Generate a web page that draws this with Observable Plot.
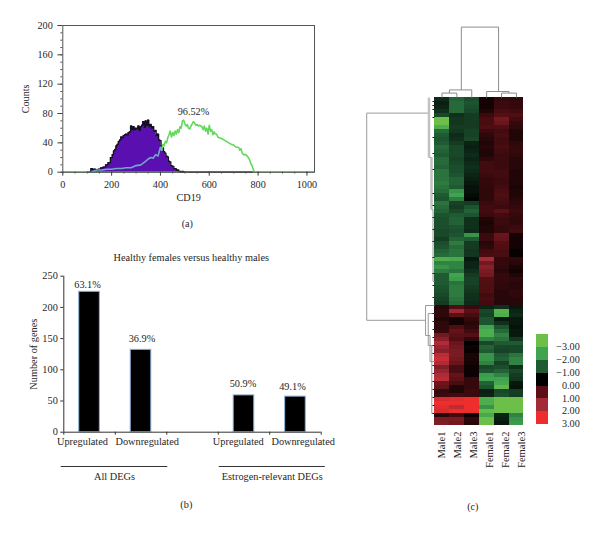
<!DOCTYPE html>
<html><head><meta charset="utf-8">
<script src="https://cdn.jsdelivr.net/npm/d3@7"></script>
<script src="https://cdn.jsdelivr.net/npm/@observablehq/plot@0.6"></script>
<style>
html,body{margin:0;padding:0;background:#fff}
#page{position:relative;width:600px;height:533px;overflow:hidden;background:#fff}
#page svg{position:absolute;overflow:visible;background:transparent}
</style></head><body><div id="page"></div>
<script>
const serif = "'Liberation Serif', serif";
const ink = "#262626";

// ---------- Panel (a): flow histogram ----------
const cd19Bins = [100,110,120,125,130,140,150,160,170,180,190,200,205,210,215,220,225,230,235,240,245,250,255,260,265,270,275,280,285,290,295,300,305,310,315,320,325,330,335,340,345,350,355,360,365,370,375,380,385,390,395,400,405,410,415,420,425,430,435,440,445,450,460,470,480,490,500];
const isotypeCounts = [0,0,5,3,4,3,4,6,7,10,13,20,24,29,31,36,38,42,44,48,47,50,51,52,51,54,55,63,58,62,58,60,59,63,57,62,64,69,61,70,64,71,62,65,60,62,56,57,50,52,44,43,36,33,28,26,22,21,15,14,9,8,5,3,1,1,0];
const cd19PosBins = [120,140,160,180,200,220,240,260,280,300,320,340,350,360,370,380,390,400,405,410,415,420,425,430,435,440,445,450,455,460,465,470,475,480,485,490,495,500,505,510,515,520,525,530,535,540,545,550,555,560,565,570,575,580,585,590,595,600,605,610,615,620,625,630,635,640,650,660,670,680,690,700,710,720,725,730,735,740,750,760,765,770,775,780,785];
const cd19PosCounts = [1,3,3,4,4,5,5,6,6,9,10,15,18,20,19,24,22,34,30,38,36,42,40,47,51,56,48,54,50,56,52,58,54,62,60,70,71,66,63,65,60,59,63,66,69,67,64,65,63,64,63,62,58,63,56,60,52,64,56,58,51,55,52,52,48,47,46,44,42,40,38,37,34,34,30,32,26,24,24,20,17,12,9,4,0];
const countTicks = [0,40,80,120,160,200];
const countMinor = d3.range(0,201,10);
const cd19Ticks = [0,200,400,600,800,1000];
const cd19Minor = d3.range(0,1001,50);

const isotype = cd19Bins.map((x,i)=>({x,y:isotypeCounts[i]}));
const positive = cd19PosBins.map((x,i)=>({x,y:cd19PosCounts[i]}));

const panelA = Plot.plot({
  width:340,height:235,marginLeft:62.3,marginRight:26,marginTop:25,marginBottom:63.3,
  style:{fontFamily:serif,fontSize:"10.2px",color:ink,background:"transparent",left:"0px",top:"0px"},
  x:{domain:[0,1031],axis:null},y:{domain:[0,200],axis:null},
  marks:[
    Plot.areaY(isotype,{x:"x",y:"y",fill:"#5a0fb0",curve:"step"}),
    Plot.lineY(isotype,{x:"x",y:"y",stroke:"#151020",strokeWidth:1.3,curve:"step"}),
    Plot.ruleY([0],{stroke:"#4f9e4f",strokeWidth:1.2}),
    Plot.ruleY([0],{x1:480,x2:780,stroke:"#222",strokeWidth:1.2}),
    Plot.lineY(positive.filter(d=>d.x<=405),{x:"x",y:"y",stroke:"#6fa8c8",strokeWidth:1.6}),
    Plot.lineY(positive.filter(d=>d.x>=405),{x:"x",y:"y",stroke:"#62d85c",strokeWidth:1.6}),
    Plot.frame({stroke:"#555",strokeWidth:1}),
    Plot.ruleY(countMinor,{x1:-8,x2:0,stroke:"#555"}),
    Plot.ruleX(cd19Minor,{y1:-2.5,y2:0,stroke:"#555"}),
    Plot.axisY({ticks:countTicks,tickSize:5,tickPadding:5,label:"Counts",labelAnchor:"center",labelArrow:"none",labelOffset:41,stroke:"#444",fill:ink}),
    Plot.axisX({ticks:cd19Ticks,tickFormat:d=>String(d),tickSize:4,tickPadding:5,label:"CD19",labelAnchor:"center",labelArrow:"none",labelOffset:29,stroke:"#444",fill:ink}),
    Plot.text(["96.52%"],{x:535,y:82,fill:ink}),
    Plot.text(["(a)"],{x:510,y:0,dy:52,fill:ink})
  ]
});

// ---------- Panel (b): DEG bars ----------
const barPositions = [0,1,3,4];
const barCategories = ["Upregulated","Downregulated","Upregulated","Downregulated"];
const geneCounts = [225,132,59,57];
const barPercents = ["63.1%","36.9%","50.9%","49.1%"];
const percentLift = [7,11.6,12,10];
const percentShift = [-2,1,-1,-3];
const labelCentres = [0.363,1.62,3.39,4.65];
const slotTicks = [0,1,2,3,4,5];
const geneTicks = [0,50,100,150,200,250];
const groups = [{name:"All DEGs",from:-0.05,to:2.02,mid:0.985},{name:"Estrogen-relevant DEGs",from:3.02,to:5.08,mid:4.05}];

const panelB = Plot.plot({
  width:345,height:285,marginLeft:63.3,marginRight:24.3,marginTop:35.7,marginBottom:93.3,
  style:{fontFamily:serif,fontSize:"10.3px",color:ink,background:"transparent",left:"0px",top:"240px"},
  x:{domain:[0,5],axis:null},y:{domain:[0,250],axis:null},
  marks:[
    Plot.rect(geneCounts,{x1:(d,i)=>barPositions[i]+0.3,x2:(d,i)=>barPositions[i]+0.7,y1:0,y2:d=>d,fill:"#000",stroke:"#8db2d6",strokeWidth:1}),
    ...geneCounts.map((v,i)=>Plot.text([barPercents[i]],{x:barPositions[i]+0.5,y:v,dy:-percentLift[i],dx:percentShift[i],fill:ink})),
    Plot.ruleX([0],{stroke:"#333"}),
    Plot.ruleY([0],{stroke:"#333"}),
    Plot.axisY({ticks:geneTicks,tickSize:3,tickPadding:3,label:"Number of genes",labelAnchor:"center",labelArrow:"none",labelOffset:34,stroke:"#333",fill:ink}),
    Plot.axisX({ticks:slotTicks,tickSize:3,tickFormat:()=>"",label:null,stroke:"#333"}),
    Plot.text(barCategories,{x:(d,i)=>labelCentres[i],y:0,dy:10,fill:ink}),
    Plot.ruleY(groups,{y:()=>0,x1:"from",x2:"to",dy:34.3,stroke:"#333"}),
    Plot.text(groups,{x:"mid",y:()=>0,text:"name",dy:45,fill:ink}),
    Plot.text(["Healthy females versus healthy males"],{x:2.475,y:250,dy:-18.7,fill:ink}),
    Plot.text(["(b)"],{x:2.38,y:0,dy:73,fill:ink})
  ]
});

// ---------- Panel (c): heat map ----------
const samples = ["Male1","Male2","Male3","Female1","Female2","Female3"];
const sampleLabelPositions = [0.47,1.54,2.62,3.69,4.76,5.84];
const femaleHighRows = [
[-0.7,-1.6,-1.3,0.3,0.8,0.7],[-0.5,-1.7,-1.4,0.3,0.9,0.8],[-0.6,-1.7,-1.3,0.3,0.9,0.8],[-0.8,-1.7,-1.2,0.5,1.1,1.0],
[-1.2,-0.8,-1.0,0.9,1.3,1.2],[-3.0,-0.9,-1.0,1.1,1.7,1.0],[-3.0,-0.9,-1.0,1.1,1.6,0.8],[-2.6,-1.0,-1.0,1.2,1.2,0.7],
[-1.7,-0.9,-1.1,0.9,1.0,0.5],[-1.5,-0.7,-1.1,0.7,1.1,0.5],[-1.4,-0.8,-1.2,0.6,1.0,0.5],[-1.5,-1.0,-0.6,0.5,1.0,0.7],
[-1.7,-1.2,-0.5,0.6,1.1,0.8],[-1.6,-1.2,-0.6,0.5,1.0,0.8],[-1.5,-1.2,-0.7,0.5,0.9,0.7],[-1.7,-1.1,-0.6,0.7,0.9,0.6],
[-1.7,-1.2,-0.7,1.0,0.9,0.6],[-1.6,-1.3,-0.8,1.0,0.9,0.6],[-1.8,-1.3,-0.7,1.0,1.0,0.5],[-1.8,-1.4,-0.6,0.9,1.0,0.5],
[-1.8,-1.6,-0.5,0.8,0.9,0.5],[-1.9,-1.6,-0.4,0.8,0.9,0.5],[-1.8,-1.5,-0.3,0.7,1.0,0.4],[-1.7,-2.2,-0.3,0.7,1.1,0.5],
[-1.5,-2.4,-0.2,0.7,1.2,0.5],[-1.4,-1.9,-0.1,0.7,1.1,0.6],[-1.8,-1.1,-1.0,0.9,1.0,0.7],[-1.7,-1.0,-1.4,1.0,0.9,0.8],
[-1.6,-1.2,-1.6,1.0,1.4,0.9],[-1.4,-1.5,-1.4,0.9,1.0,0.8],[-1.3,-1.6,-0.8,0.5,0.9,0.7],[-1.3,-1.6,-0.8,0.4,0.9,0.7],
[-1.3,-1.4,-0.8,0.5,0.8,0.9],[-1.2,-1.3,-0.7,0.5,0.8,1.0],[-1.2,-1.4,-2.2,0.9,1.6,0.3],[-1.0,-1.6,-1.5,0.9,1.5,0.3],
[-1.3,-1.9,-1.0,0.6,1.3,0.3],[-1.4,-1.7,-1.0,0.7,1.2,0.3],[-1.6,-1.8,-0.9,1.0,1.1,0.1],[-1.7,-1.8,-0.9,1.1,1.1,0.1],
[-2.6,-2.5,-0.4,2.4,0.8,0.7],[-2.0,-2.0,-0.6,1.7,0.8,0.6],[-2.2,-2.0,-0.6,2.0,0.7,0.4],[-1.9,-1.8,-0.8,1.8,0.6,0.3],
[-1.5,-2.4,-1.0,1.7,0.8,0.5],[-1.5,-2.3,-1.1,1.3,0.8,0.7],[-1.5,-1.8,-1.1,1.2,0.7,0.6],[-1.4,-1.9,-1.0,1.2,0.7,0.6],
[-1.3,-1.9,-0.9,1.2,0.6,0.7],[-1.2,-1.9,-0.8,1.0,0.6,0.7],[-1.1,-1.8,-0.8,1.1,0.6,0.6],[-1.0,-1.7,-0.7,1.0,0.6,0.6]];
const maleHighRows = [
[0.6,1.2,0.9,-0.6,-0.8,-0.4],[0.7,2.3,1.4,-1.2,-2.7,-0.6],[0.7,1.4,1.1,-1.1,-2.6,-0.7],[0.5,0.3,0.8,-1.4,-0.4,-0.4],
[0.7,0.3,0.6,-1.4,-0.8,-0.4],[0.7,1.2,0.7,-2.4,-1.4,-0.3],[0.8,1.5,1.0,-2.6,-1.7,-0.4],[1.7,1.4,1.3,-2.6,-2.0,-0.4],
[2.0,1.2,0.7,-2.0,-1.8,-0.9],[2.5,1.6,0.0,-1.2,-1.5,-1.5],[2.2,1.7,0.2,-1.6,-1.2,-1.2],[2.0,1.8,0.1,-1.5,-1.1,-1.2],
[2.6,1.8,0.4,-2.2,-1.5,-1.8],[2.7,1.7,0.4,-2.2,-1.6,-2.0],[2.5,1.6,0.3,-2.0,-1.1,-2.0],[1.9,1.1,0.2,-1.2,-1.3,-0.8],
[2.2,1.1,0.2,-1.4,-1.6,-1.2],[2.5,1.5,0.2,-2.3,-2.0,-1.0],[2.6,1.4,0.8,-2.4,-2.4,-0.9],[1.6,1.1,0.8,-1.6,-2.5,-0.4],
[1.5,0.5,0.8,-1.4,-2.8,-0.3],[0.8,0.5,0.9,-0.5,-1.2,-1.0],[0.9,1.0,0.9,-0.6,-1.3,-1.0],[2.8,2.9,3.0,-2.6,-3.0,-3.0],
[3.0,3.0,3.0,-2.6,-3.0,-3.0],[2.9,2.6,3.0,-2.2,-3.0,-3.0],[2.8,3.0,3.0,-2.9,-3.0,-3.0],[0.6,1.0,0.2,-2.5,-0.6,-2.0],
[1.8,1.8,0.7,-3.0,-0.5,-2.2],[1.9,1.7,0.6,-3.0,-0.4,-2.3]];
const heatRows = femaleHighRows.concat(maleHighRows);
const colorStops = [-3,-2.4,-1.5,0,1.4,2.4,3];
const legendLabels = ["\u22123.00","\u22122.00","\u22121.00","0.00","1.00","2.00","3.00"];
const heatColors = ["#6cc04a","#3fa44f","#1f5a33","#000000","#5c1015","#a32b38","#ee2d2d"];

// dendrogram segments, in heat-map units [column, row, column, row]
const sampleTree = [
 [1.8,-17.6,4.3,-17.6],[1.8,-17.6,1.8,-1.9],[4.3,-17.6,4.3,-1.5],
 [1.0,-1.9,2.5,-1.9],[1.0,-1.9,1.0,-1.1],[2.5,-1.9,2.5,0],
 [0.5,-1.1,1.5,-1.1],[0.5,-1.1,0.5,0],[1.5,-1.1,1.5,0],
 [3.5,-1.5,5.0,-1.5],[3.5,-1.5,3.5,0],[5.0,-1.5,5.0,-1.1],
 [4.5,-1.1,5.5,-1.1],[4.5,-1.1,4.5,0],[5.5,-1.1,5.5,0]];
const geneTree = [
 [-4.55,3.9,-0.37,3.9],[-4.55,3.9,-4.55,55.7],[-4.55,55.7,-0.6,55.7],
 [-0.6,52,-0.6,59.5],[-0.6,52,0,52],[-0.6,59.5,-0.3,59.5],
 [-0.42,54,-0.42,62],[-0.42,54,0,54],[-0.42,62,-0.15,62],
 [-0.3,59.5,-0.3,66],[-0.3,66,0,66],
 [-0.18,62,-0.18,79],[-0.18,79,0,79],
 [-0.37,15,-0.2,15],[-0.2,28,-0.1,28],[-0.1,28,-0.1,46],[-0.1,46,0,46]];
const thickGeneTree = [[-0.37,0,-0.37,15],[-0.2,15,-0.2,28]];
const geneLeafRows = [1,2,3,5,10,14,18,24,27,30,33,36,40,44,47,50,54,56,58,60,62,64,67,69,71,73,75,77,79];

const cells = heatRows.flatMap((row,r)=>row.map((v,c)=>({c,r,v})));
const panelC = Plot.plot({
  width:250,height:533,marginLeft:84,marginRight:76.6,marginTop:97,marginBottom:108,
  style:{fontFamily:serif,fontSize:"10.2px",color:ink,background:"transparent",left:"350px",top:"0px"},
  x:{domain:[0,6],axis:null},y:{domain:[82,0],axis:null},
  color:{type:"linear",domain:colorStops,range:heatColors,clamp:true},
  marks:[
    Plot.rect(cells,{x1:"c",x2:d=>d.c+1,y1:"r",y2:d=>d.r+1,fill:"v",shapeRendering:"crispEdges"}),
    Plot.link(sampleTree,{x1:d=>d[0],y1:d=>d[1],x2:d=>d[2],y2:d=>d[3],stroke:"#8c8c8c",strokeWidth:1}),
    Plot.link(geneTree,{x1:d=>d[0],y1:d=>d[1],x2:d=>d[2],y2:d=>d[3],stroke:"#9a9a9a",strokeWidth:1}),
    Plot.link(thickGeneTree,{x1:d=>d[0],y1:d=>d[1],x2:d=>d[2],y2:d=>d[3],stroke:"#c2c2c2",strokeWidth:2.5}),
    Plot.link(geneLeafRows,{x1:-0.14,x2:0,y1:d=>d,y2:d=>d,stroke:"#222",strokeWidth:1}),
    Plot.text(samples,{x:(d,i)=>sampleLabelPositions[i],y:82,dy:6,rotate:-90,textAnchor:"end",fontSize:"10.6px",fill:ink}),
    Plot.rect(colorStops,{x1:6.87,x2:7.68,y1:(d,i)=>59.25+i*3.22,y2:(d,i)=>59.25+(i+1)*3.22,fill:d=>d,shapeRendering:"crispEdges"}),
    Plot.text(legendLabels,{x:9.75,y:(d,i)=>62.35+i*3.21,textAnchor:"end",fill:ink}),
    Plot.text(["(c)"],{x:2.57,y:102.25,fill:ink})
  ]
});

const page = document.getElementById("page");
page.append(panelA,panelB,panelC);
</script></body></html>
